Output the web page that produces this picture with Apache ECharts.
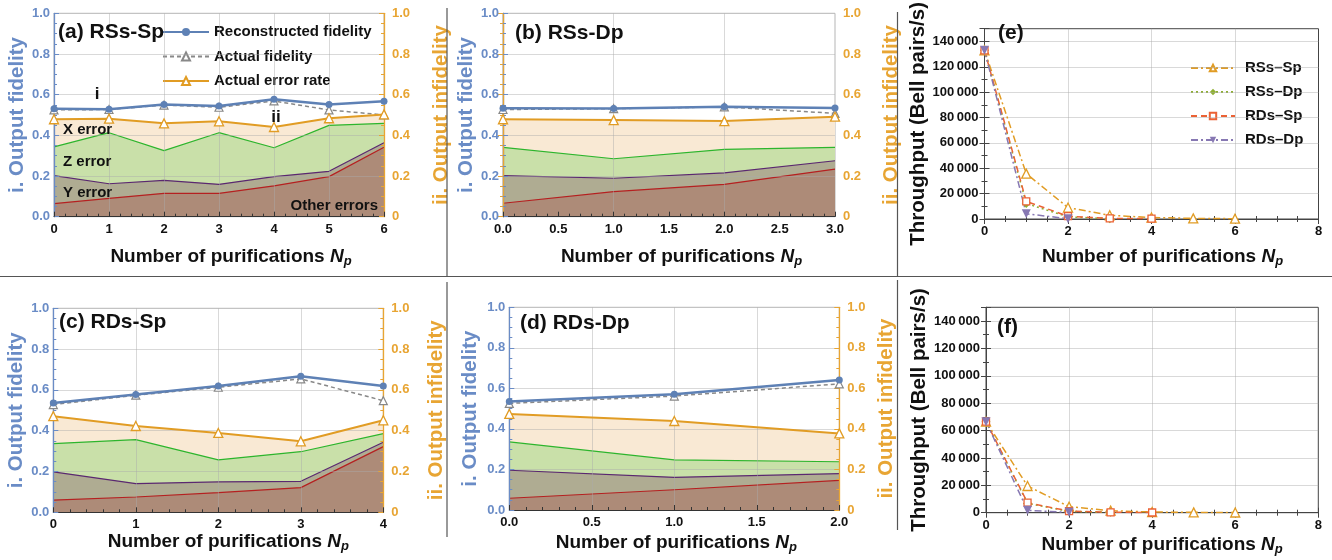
<!DOCTYPE html>
<html>
<head>
<meta charset="utf-8">
<script src="https://cdn.jsdelivr.net/npm/echarts@6/dist/echarts.min.js"></script>
<style>
  html, body { margin: 0; padding: 0; background: #fff; }
  #chart { width: 1332px; height: 560px; }
</style>
</head>
<body>
<div id="chart"></div>
<script>
// ---- data ----
// (a) RSs-Sp
const aNp = [0, 1, 2, 3, 4, 5, 6];
const aRecon = [0.531, 0.528, 0.552, 0.544, 0.577, 0.552, 0.567];
const aActual = [0.525, 0.527, 0.549, 0.538, 0.569, 0.525, 0.500];
const aErr = [0.479, 0.482, 0.459, 0.469, 0.441, 0.484, 0.503];
const aZTop = [0.343, 0.413, 0.325, 0.413, 0.339, 0.449, 0.459];
const aYTop = [0.202, 0.162, 0.179, 0.159, 0.197, 0.223, 0.364];
const aOther = [0.064, 0.090, 0.115, 0.115, 0.152, 0.197, 0.341];

// (b) RSs-Dp
const bNp = [0, 1, 2, 3];
const bRecon = [0.533, 0.532, 0.540, 0.535];
const bActual = [0.527, 0.531, 0.540, 0.508];
const bErr = [0.479, 0.475, 0.470, 0.492];
const bZTop = [0.341, 0.285, 0.331, 0.341];
const bYTop = [0.202, 0.189, 0.215, 0.275];
const bOther = [0.066, 0.123, 0.159, 0.234];

// (c) RDs-Sp
const cNp = [0, 1, 2, 3, 4];
const cRecon = [0.536, 0.577, 0.619, 0.667, 0.619];
const cActual = [0.528, 0.574, 0.613, 0.654, 0.547];
const cErr = [0.471, 0.423, 0.389, 0.348, 0.451];
const cZTop = [0.337, 0.356, 0.257, 0.297, 0.386];
const cYTop = [0.198, 0.141, 0.149, 0.152, 0.343];
const cOther = [0.060, 0.075, 0.096, 0.121, 0.322];

// (d) RDs-Dp
const dNp = [0, 1, 2];
const dRecon = [0.535, 0.571, 0.641];
const dActual = [0.526, 0.562, 0.622];
const dErr = [0.474, 0.439, 0.378];
const dZTop = [0.336, 0.247, 0.238];
const dYTop = [0.196, 0.161, 0.179];
const dOther = [0.058, 0.100, 0.146];

// (e) / (f) throughput, index = number of purifications
const eRSsSp = [133000, 35800, 9000, 2900, 1200, 500, 250];
const eRSsDp = [133000, 12200, 1700, 250];
const eRDsSp = [133000, 13900, 2200, 500, 250];
const eRDsDp = [133000, 4100, 250];
const fRSsSp = [66500, 19500, 4400, 1500, 500, 250, 150];
const fRSsDp = [66500, 6800, 1000, 250];
const fRDsSp = [66500, 7300, 1200, 300, 150];
const fRDsDp = [66500, 1700, 250];

const tpTicks = [0, 20000, 40000, 60000, 80000, 100000, 120000, 140000];

// ---- styling ----
const FONT = '"Liberation Sans", Arial, Helvetica, sans-serif';
const BLUE = '#5e81b5';
const BLUE_AX = '#6a8cc6';
const ORANGE = '#e19c24';
const ORANGE_AX = '#e8a533';
const GREEN = '#8fb032';
const RED = '#eb6235';
const PURPLE = '#8778b3';
const GRIDLINE = { color: 'rgba(170,170,170,0.45)', width: 1 };
const FILLS = { x: '#f9e9d4', z: '#c9e0a9', y: '#afac92', other: '#ad8b78' };
const EDGES = { z: '#2db52d', y: '#5a2870', other: '#b52020' };
const NAME_SIZE = 20.5;

const GRIDS = [
  { left: 54, top: 13.3, width: 330, height: 203.4 },     // a
  { left: 503, top: 13.3, width: 332, height: 203.4 },    // b
  { left: 53.3, top: 308.3, width: 330, height: 204 },    // c
  { left: 509.3, top: 307.3, width: 330, height: 202.7 }, // d
  { left: 984.5, top: 13.5, width: 334, height: 205.5 },  // e
  { left: 986, top: 307.3, width: 332.3, height: 205.4 }, // f
];

const X_NAME = '{b|Number of purifications }{i|N}{s|p}';
const X_NAME_RICH = {
  b: { fontFamily: FONT, fontWeight: 'bold', fontSize: 19, color: '#111', lineHeight: 22, verticalAlign: 'middle' },
  i: { fontFamily: FONT, fontWeight: 'bold', fontStyle: 'italic', fontSize: 19, color: '#111', lineHeight: 22, verticalAlign: 'middle' },
  s: { fontFamily: FONT, fontWeight: 'bold', fontStyle: 'italic', fontSize: 13, color: '#111', lineHeight: 13, verticalAlign: 'bottom' },
};

function xNameStyle(shift) {
  // the figure's axis titles sit a little right of the plot centre
  return { rich: X_NAME_RICH, padding: [0, 0, 0, shift * 2] };
}

function tickFont(color) {
  return { color, fontFamily: FONT, fontWeight: 'bold', fontSize: 13 };
}

function pairs(xs, ys) {
  return ys.map((v, i) => [xs[i], v]);
}

const xAxes = [];
const yAxes = [];
const series = [];

function addFidelityPanel(g, cfg) {
  const xi = xAxes.length;
  xAxes.push({
    type: 'value', gridIndex: g, min: 0, max: cfg.xMax, interval: cfg.xStep, z: 6,
    axisLine: { lineStyle: { color: '#333', width: 1 } },
    axisTick: { inside: true, length: 5, lineStyle: { color: '#333' } },
    minorTick: { show: true, splitNumber: cfg.minor, length: 3, lineStyle: { color: '#333' } },
    splitLine: { show: cfg.gridStep === cfg.xStep, showMinLine: false, showMaxLine: false, lineStyle: GRIDLINE },
    axisLabel: { ...tickFont('#111'), margin: 6, formatter: (v) => v.toFixed(cfg.dec) },
    name: X_NAME, nameLocation: 'middle', nameGap: cfg.xGap, nameTextStyle: xNameStyle(cfg.xShift),
  });
  if (cfg.gridStep !== cfg.xStep) {
    xAxes.push({
      type: 'value', gridIndex: g, min: 0, max: cfg.xMax, interval: cfg.gridStep, z: 6,
      axisLine: { show: false }, axisTick: { show: false }, axisLabel: { show: false },
      splitLine: { show: true, showMinLine: false, showMaxLine: false, lineStyle: GRIDLINE },
    });
  }
  const yl = yAxes.length;
  yAxes.push({
    type: 'value', gridIndex: g, position: 'left', min: 0, max: 1, interval: 0.2, z: 6,
    axisLine: { show: true, lineStyle: { color: BLUE_AX, width: 1.3 } },
    axisTick: { show: true, inside: true, length: 5, lineStyle: { color: BLUE_AX } },
    minorTick: { show: true, splitNumber: 4, length: 3, lineStyle: { color: BLUE_AX } },
    splitLine: { show: true, showMinLine: false, showMaxLine: false, lineStyle: GRIDLINE },
    axisLabel: { ...tickFont(BLUE_AX), margin: 4, formatter: (v) => v.toFixed(1) },
    name: 'i. Output fidelity', nameLocation: 'middle', nameGap: cfg.lGap,
    nameTextStyle: { color: BLUE_AX, fontFamily: FONT, fontWeight: 'bold', fontSize: NAME_SIZE },
  });
  const yr = yAxes.length;
  yAxes.push({
    type: 'value', gridIndex: g, position: 'right', min: 0, max: 1, interval: 0.2, z: 6,
    axisLine: { show: true, lineStyle: { color: ORANGE_AX, width: 1.3 } },
    axisTick: { show: true, inside: true, length: 5, lineStyle: { color: ORANGE_AX } },
    minorTick: { show: true, splitNumber: 4, length: 3, lineStyle: { color: ORANGE_AX } },
    splitLine: { show: false },
    axisLabel: { ...tickFont(ORANGE_AX), margin: 8, formatter: (v) => (v === 0 ? '0' : v.toFixed(1)) },
    name: 'ii. Output infidelity', nameLocation: 'middle', nameGap: cfg.rGap,
    nameTextStyle: { color: ORANGE_AX, fontFamily: FONT, fontWeight: 'bold', fontSize: NAME_SIZE },
  });

  const base = { type: 'line', xAxisIndex: xi, silent: true, animation: false };
  const area = (vals, fill, edge, z) => ({
    ...base, yAxisIndex: yr, symbol: 'none', z,
    data: pairs(cfg.np, vals),
    lineStyle: edge ? { color: edge, width: 1.2 } : { width: 0 },
    areaStyle: { color: fill, opacity: 1 },
  });
  series.push(area(cfg.err, FILLS.x, null, 2));
  series.push(area(cfg.zTop, FILLS.z, EDGES.z, 3));
  series.push(area(cfg.yTop, FILLS.y, EDGES.y, 4));
  series.push(area(cfg.other, FILLS.other, EDGES.other, 5));
  series.push({
    ...base, name: 'Actual fidelity', yAxisIndex: yl, z: 7,
    data: pairs(cfg.np, cfg.actual),
    symbol: 'triangle', symbolSize: 8,
    lineStyle: { color: '#888', width: 1.5, type: [4, 3] },
    itemStyle: { color: '#fff', borderColor: '#888', borderWidth: 1.2 },
  });
  series.push({
    ...base, name: 'Actual error rate', yAxisIndex: yr, z: 8,
    data: pairs(cfg.np, cfg.err),
    symbol: 'triangle', symbolSize: 9,
    lineStyle: { color: ORANGE, width: 2 },
    itemStyle: { color: '#fff', borderColor: ORANGE, borderWidth: 1.3 },
  });
  series.push({
    ...base, name: 'Reconstructed fidelity', yAxisIndex: yl, z: 9,
    data: pairs(cfg.np, cfg.recon),
    symbol: 'circle', symbolSize: 7,
    lineStyle: { color: BLUE, width: 2.5 },
    itemStyle: { color: BLUE },
  });
}

const TP_STYLES = {
  'RSs\u2013Sp': { color: ORANGE, dash: [7, 3, 2, 3], symbol: 'triangle', size: 9, open: true, rotate: 0 },
  'RSs\u2013Dp': { color: GREEN, dash: [2, 3], symbol: 'diamond', size: 9, open: false, rotate: 0 },
  'RDs\u2013Sp': { color: RED, dash: [6, 4], symbol: 'rect', size: 7, open: true, rotate: 0 },
  'RDs\u2013Dp': { color: PURPLE, dash: [7, 3, 2, 3], symbol: 'triangle', size: 9, open: false, rotate: 180 },
};

function addThroughputPanel(g, cfg) {
  const xi = xAxes.length;
  xAxes.push({
    type: 'value', gridIndex: g, position: 'bottom', min: 0, max: 8, interval: 2, z: 6,
    axisLine: { lineStyle: { color: '#444' } },
    axisTick: { inside: true, length: 5, lineStyle: { color: '#444' } },
    minorTick: { show: true, splitNumber: 4, length: 3, lineStyle: { color: '#444' } },
    splitLine: { show: true, showMinLine: false, showMaxLine: false, lineStyle: GRIDLINE },
    axisLabel: { ...tickFont('#111'), margin: 6 },
    name: X_NAME, nameLocation: 'middle', nameGap: cfg.xGap, nameTextStyle: xNameStyle(cfg.xShift),
  });
  xAxes.push({
    type: 'value', gridIndex: g, position: 'top', min: 0, max: 8, interval: 2, z: 6,
    axisLine: { lineStyle: { color: '#444' } },
    axisTick: { inside: true, length: 5, lineStyle: { color: '#444' } },
    minorTick: { show: true, splitNumber: 4, length: 3, lineStyle: { color: '#444' } },
    splitLine: { show: false }, axisLabel: { show: false },
  });
  const yl = yAxes.length;
  yAxes.push({
    type: 'value', gridIndex: g, position: 'left', min: 0, max: 150000, interval: 20000, z: 6,
    axisLine: { show: true, lineStyle: { color: '#444' } },
    axisTick: { show: true, inside: true, length: 5, lineStyle: { color: '#444' } },
    minorTick: { show: true, splitNumber: 2, length: 3, lineStyle: { color: '#444' } },
    splitLine: { show: true, showMinLine: false, showMaxLine: false, lineStyle: GRIDLINE },
    axisLabel: {
      ...tickFont('#111'), margin: 6,
      formatter: (v) => (v > tpTicks[tpTicks.length - 1] ? '' : String(v).replace(/\B(?=(\d{3})+(?!\d))/g, '\u2009')),
    },
    name: 'Throughput (Bell pairs/s)', nameLocation: 'middle', nameGap: cfg.lGap,
    nameTextStyle: { color: '#111', fontFamily: FONT, fontWeight: 'bold', fontSize: NAME_SIZE },
  });
  yAxes.push({
    type: 'value', gridIndex: g, position: 'right', min: 0, max: 150000, interval: 20000, z: 6,
    axisLine: { show: true, lineStyle: { color: '#444' } },
    axisTick: { show: true, inside: true, length: 5, lineStyle: { color: '#444' } },
    minorTick: { show: true, splitNumber: 2, length: 3, lineStyle: { color: '#444' } },
    splitLine: { show: false }, axisLabel: { show: false },
  });
  cfg.lines.forEach(([name, vals]) => {
    const st = TP_STYLES[name];
    series.push({
      type: 'line', name, xAxisIndex: xi, yAxisIndex: yl, silent: true, animation: false, z: 7,
      data: vals.map((v, i) => [i, v]),
      symbol: st.symbol, symbolSize: st.size, symbolRotate: st.rotate,
      lineStyle: { color: st.color, width: 1.5, type: st.dash },
      itemStyle: st.open
        ? { color: '#fff', borderColor: st.color, borderWidth: 1.3 }
        : { color: st.color },
    });
  });
}

addFidelityPanel(0, { np: aNp, recon: aRecon, actual: aActual, err: aErr, zTop: aZTop, yTop: aYTop, other: aOther,
  xMax: 6, xStep: 1, dec: 0, minor: 5, gridStep: 1, xGap: 29, xShift: 12, lGap: 23.5, rGap: 46.5 });
addFidelityPanel(1, { np: bNp, recon: bRecon, actual: bActual, err: bErr, zTop: bZTop, yTop: bYTop, other: bOther,
  xMax: 3, xStep: 0.5, dec: 1, minor: 5, gridStep: 1, xGap: 29, xShift: 12.5, lGap: 22.5, rGap: 45.5 });
addFidelityPanel(2, { np: cNp, recon: cRecon, actual: cActual, err: cErr, zTop: cZTop, yTop: cYTop, other: cOther,
  xMax: 4, xStep: 1, dec: 0, minor: 5, gridStep: 1, xGap: 8, xShift: 10, lGap: 23, rGap: 43 });
addFidelityPanel(3, { np: dNp, recon: dRecon, actual: dActual, err: dErr, zTop: dZTop, yTop: dYTop, other: dOther,
  xMax: 2, xStep: 0.5, dec: 1, minor: 5, gridStep: 0.5, xGap: 21.5, xShift: 2, lGap: 28, rGap: 37 });
addThroughputPanel(4, { xGap: 27, xShift: 11, lGap: 53, lines: [
  ['RSs\u2013Sp', eRSsSp], ['RSs\u2013Dp', eRSsDp], ['RDs\u2013Sp', eRDsSp], ['RDs\u2013Dp', eRDsDp]] });
addThroughputPanel(5, { xGap: 21, xShift: 10, lGap: 55.5, lines: [
  ['RSs\u2013Sp', fRSsSp], ['RSs\u2013Dp', fRSsDp], ['RDs\u2013Sp', fRDsSp], ['RDs\u2013Dp', fRDsDp]] });

const grids = GRIDS.map((g, i) => ({
  ...g, show: true, borderWidth: 1, borderColor: i < 4 ? '#b5b5b5' : '#444', backgroundColor: 'transparent',
}));

const legendText = { fontFamily: FONT, fontWeight: 'bold', fontSize: 15, color: '#111', lineHeight: 18 };
const legends = [
  {
    left: 162, top: 23, padding: 0, orient: 'vertical', itemWidth: 46, itemHeight: 10, itemGap: 6.5,
    selectedMode: false, textStyle: legendText,
    data: ['Reconstructed fidelity', 'Actual fidelity', 'Actual error rate'],
  },
  {
    left: 1190, top: 59, padding: 0, orient: 'vertical', itemWidth: 44, itemHeight: 8, itemGap: 6,
    selectedMode: false, textStyle: { ...legendText, padding: [0, 0, 0, 5] },
    data: ['RSs\u2013Sp', 'RSs\u2013Dp', 'RDs\u2013Sp', 'RDs\u2013Dp'],
  },
];

// panel titles and in-plot labels
const LABELS = [
  ['(a) RSs-Sp', 58, 32, 21, 'left'],
  ['(b) RSs-Dp', 515, 33, 21, 'left'],
  ['(c) RDs-Sp', 59, 322, 21, 'left'],
  ['(d) RDs-Dp', 520, 323, 21, 'left'],
  ['(e)', 998, 33, 21, 'left'],
  ['(f)', 997, 327, 21, 'left'],
  ['i', 97, 94, 17, 'center'],
  ['ii', 276, 117, 17, 'center'],
  ['X error', 63, 130, 15, 'left'],
  ['Z error', 63, 162, 15, 'left'],
  ['Y error', 63, 193, 15, 'left'],
  ['Other errors', 378, 206, 15, 'right'],
];

const SEPARATORS = [
  [0, 276.5, 1332, 276.5],
  [447, 8, 447, 276],
  [447, 282, 447, 537],
  [897.5, 12, 897.5, 276],
  [897.5, 280, 897.5, 530],
];

const graphic = [
  ...SEPARATORS.map(([x1, y1, x2, y2]) => ({
    type: 'line', silent: true, z: 100,
    shape: { x1, y1, x2, y2 },
    style: { stroke: '#555', lineWidth: 1.2 },
  })),
  ...LABELS.map(([text, x, y, size, align]) => ({
    type: 'text', silent: true, z: 100, x, y,
    style: { text, fill: '#111', font: `bold ${size}px ${FONT}`, textAlign: align, textVerticalAlign: 'middle' },
  })),
];

const chart = echarts.init(document.getElementById('chart'), null, { renderer: 'canvas' });
chart.setOption({
  backgroundColor: '#fff',
  animation: false,
  grid: grids,
  xAxis: xAxes,
  yAxis: yAxes,
  legend: legends,
  series,
  graphic,
});
</script>
</body>
</html>
